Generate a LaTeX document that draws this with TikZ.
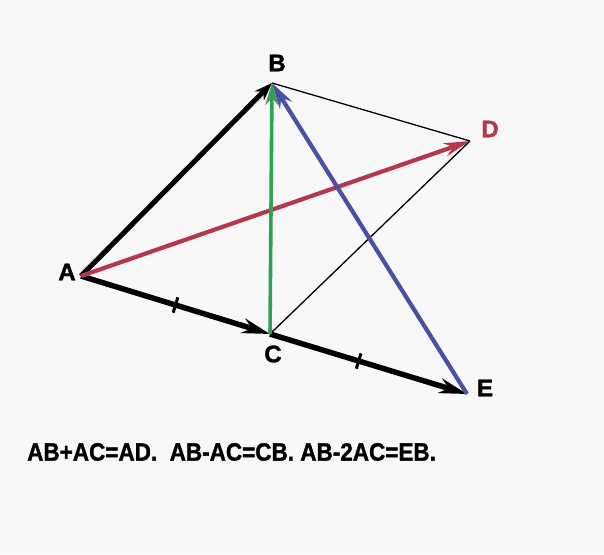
\documentclass[tikz,border=0pt]{standalone}
\usepackage{fontspec}
\setmainfont{Liberation Sans}[BoldFeatures={FakeBold=1.5}]
\usetikzlibrary{arrows.meta,decorations.markings}
\definecolor{vred}{RGB}{180,55,75}
\definecolor{vgreen}{RGB}{50,160,80}
\definecolor{vblue}{RGB}{75,80,165}
\definecolor{bg}{RGB}{248,248,248}
\begin{document}
\begin{tikzpicture}[x=1pt,y=-1pt,
  lbl/.style={font=\fontsize{24}{24}\selectfont\bfseries, inner sep=0pt},
  vec/.style={line width=4pt},
  thin/.style={line width=1.3pt, black},
  tick/.style={postaction={decorate, decoration={markings, mark=at position #1 with {\draw[-, line width=3pt] (0,-8) -- (0,8);}}}}
]
\fill[bg] (0,0) rectangle (604,554);
\useasboundingbox (0,0) rectangle (604,554);
\coordinate (A) at (81,276);
\coordinate (B) at (272,83);
\coordinate (C) at (270,334);
\coordinate (D) at (470,141);
\coordinate (E) at (467,394);
% thin lines
\draw[thin] (B) -- (D);
\draw[thin] (D) -- (C);
% vectors
\draw[vec, black, line width=5.5pt, tick=0.5, -{Stealth[length=28pt,width=15pt]}] (A) -- (C);
\draw[vec, black, line width=5.5pt, tick=0.45, -{Stealth[length=28pt,width=15pt]}] (C) -- (E);
\draw[vec, black, line width=5pt, -{Stealth[length=18pt,width=13pt]}] (A) -- (B);
\draw[vec, vred, line width=4.2pt, -{Stealth[length=26pt,width=13pt]}] (A) -- (D);
\draw[vec, vgreen, line width=3.6pt, -{Stealth[length=22pt,width=13pt]}] (C) -- (B);
\draw[vec, vblue, line width=4.2pt, -{Stealth[length=26pt,width=14pt]}] (E) -- (B);
% labels
\node[lbl] (lA) at (67,272) {A};
\node[lbl] (lB) at (277,63) {B};
\node[lbl] (lC) at (273,354) {C};
\node[lbl, text=vred] (lD) at (490,129) {D};
\node[lbl] (lE) at (485,388) {E};
\node[font=\fontsize{25}{26}\selectfont\bfseries, inner sep=0pt, anchor=west] (eq) at (27,452) {\scalebox{0.9}[1]{AB+AC=AD.\ \ AB-AC=CB. AB-2AC=EB.}};
\end{tikzpicture}
\end{document}
